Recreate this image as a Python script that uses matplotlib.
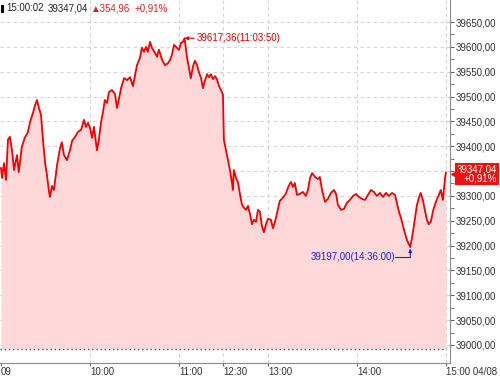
import matplotlib
matplotlib.use("Agg")
from matplotlib import pyplot as plt
import matplotlib.transforms as mtransforms
from matplotlib.patches import Rectangle

plt.rcParams['font.family'] = ['Liberation Sans', 'DejaVu Sans']

# session minute (09:00 = 0, lunch 11:30-12:30 skipped, 15:00 = 300) and price
minutes = [0, 0.7, 2, 3.4, 4.7, 6, 7.4, 8.8, 10.8, 12, 14, 16, 18, 20, 21.6, 23, 24.3,
           25.6, 27, 28.3, 29.7, 31, 32.4, 33, 34.4, 35.7, 37.8, 39.8, 41, 42.5, 44.5,
           46.5, 48, 50, 52, 54, 56, 57.3, 58.7, 60, 61.4, 62.7, 64, 64.7, 66, 67.4,
           68.8, 70, 71.5, 72.8, 74.8, 76.9, 78.2, 79, 81, 83, 85, 87, 89, 90.4, 91.7,
           93.7, 95, 96.4, 97.8, 99, 100.5, 101.8, 103.8, 105.2, 106.5, 108.6, 110.6,
           112.6, 114, 115.3, 116.7, 118, 120, 121.4, 122.7, 123.8, 125.4, 126.8, 128,
           129.5, 130.8, 132, 133.5, 134.9, 136.2, 137.6, 139, 140.3, 141.6, 143, 144.4,
           145.6, 147, 148.4, 149.7, 150.3, 151.7, 153, 154.4, 155.8, 156.4, 157, 158.5,
           159.8, 161, 162.5, 163.9, 165.2, 166.6, 168, 169.3, 170.6, 172, 173.3, 174.6,
           176, 177.3, 178.7, 180, 182, 183.4, 184.8, 186, 188, 190, 192, 194, 195.5,
           197, 198.2, 199.6, 201.6, 203.6, 205.6, 207, 208.4, 209.8, 211.8, 213.8, 215,
           216.5, 218.5, 220.5, 222.5, 224.5, 226, 227.2, 229.3, 231.3, 233.3, 235.3,
           237.4, 239.4, 241.4, 243.4, 245.5, 247.5, 249.5, 251.5, 253.5, 255.6, 257.6,
           259.6, 261.6, 263.7, 265.7, 267, 268.4, 269.7, 271, 272.4, 273.8, 276, 277.8,
           279, 280.5, 281.8, 283, 284.5, 285.8, 287.2, 288.5, 289.9, 291.2, 292.6, 294,
           295.3, 296.6, 298, 299.3, 300]
prices = [39356, 39336, 39366, 39332, 39413, 39419, 39392, 39352, 39382, 39348, 39398,
          39417, 39427, 39453, 39467, 39483, 39493, 39477, 39463, 39413, 39368, 39342,
          39308, 39298, 39320, 39312, 39362, 39396, 39408, 39382, 39372, 39392, 39411,
          39419, 39429, 39433, 39453, 39439, 39447, 39437, 39417, 39439, 39408, 39392,
          39413, 39447, 39469, 39493, 39487, 39509, 39513, 39505, 39477, 39487, 39517,
          39537, 39533, 39539, 39521, 39543, 39563, 39578, 39598, 39590, 39600, 39590,
          39610, 39598, 39588, 39580, 39594, 39574, 39563, 39567, 39574, 39584, 39604,
          39600, 39594, 39608, 39610, 39617.36, 39580, 39557, 39537, 39561, 39572, 39565,
          39549, 39537, 39517, 39533, 39545, 39539, 39545, 39535, 39541, 39535, 39521,
          39513, 39503, 39413, 39392, 39372, 39352, 39326, 39312, 39352, 39336, 39328,
          39306, 39282, 39276, 39272, 39280, 39262, 39243, 39252, 39248, 39272, 39268,
          39239, 39227, 39243, 39254, 39252, 39235, 39248, 39264, 39290, 39296, 39304,
          39320, 39328, 39318, 39326, 39302, 39304, 39308, 39300, 39312, 39336, 39346,
          39338, 39334, 39338, 39312, 39288, 39294, 39306, 39312, 39304, 39282, 39272,
          39274, 39286, 39292, 39300, 39304, 39298, 39294, 39292, 39302, 39312, 39308,
          39300, 39306, 39298, 39306, 39300, 39306, 39302, 39286, 39268, 39256, 39241,
          39225, 39211, 39197, 39227, 39252, 39282, 39296, 39306, 39292, 39272, 39252,
          39243, 39248, 39268, 39282, 39294, 39302, 39312, 39292, 39332, 39347.04]

prev_close = 38992.08
tick_pos = [0, 60, 120, 150, 180, 240, 300]
tick_labels = ["09", "10:00", "11:00", "12:30", "13:00", "14:00", "15:00 04/08"]
y_ticks = list(range(39000, 39651, 50))

fig = plt.figure(figsize=(5, 3.78), dpi=100)
ax = fig.add_axes([0, 15 / 378, 0.9, 363 / 378])

ax.fill_between(minutes, prices, prev_close, color='#ffd9d9', lw=0)
ax.plot(minutes, prices, color='#f00000', lw=1.3)
ax.axhline(prev_close, color='#555555', lw=1, ls=(0, (1, 2)), xmax=0.99)

ax.set_xlim(-0.67, 302.8)
ax.set_ylim(38963.7, 39694.3)

for y in y_ticks:
    ax.axhline(y, color='#d4d4d4', lw=0.8, ls=(0, (3, 3)), zorder=0)
for x in tick_pos[1:]:
    ax.axvline(x, color='#d4d4d4', lw=0.8, ls=(0, (3, 3)), zorder=0)

ax.yaxis.tick_right()
ax.set_yticks(y_ticks)
# the 39350 label sits under the last-price box
ax.set_yticklabels(["" if v == 39350 else f"{v:.2f}".replace('.', ',') for v in y_ticks])
ax.set_yticks([v + 25 for v in y_ticks[:-1]], minor=True)
ax.tick_params(axis='y', which='both', direction='out', length=3, color='#666666',
               labelsize=7, labelcolor='#333333', pad=1)
ax.set_xticks(tick_pos)
ax.set_xticklabels(tick_labels, ha='left')
ax.tick_params(axis='x', direction='out', length=2, color='#666666',
               labelsize=7, labelcolor='#333333', pad=1)
for s in ['top', 'left']:
    ax.spines[s].set_visible(False)
for s in ['right', 'bottom']:
    ax.spines[s].set_color('#8a8a8a')

# max / min annotations
ax.annotate("39617,36(11:03:50)", xy=(123.8, 39617.36), xytext=(132, 39617.36),
            color='#e00000', fontsize=7, va='center',
            arrowprops=dict(arrowstyle='-|>', color='#e00000', lw=0.8,
                            shrinkA=0, shrinkB=0, mutation_scale=5))
ax.text(266, 39178, "39197,00(14:36:00)", color='#2020d0', fontsize=7, ha='right', va='center')
ax.plot([266, 276], [39178, 39178], color='#2020d0', lw=0.8)
ax.annotate("", xy=(276, 39194), xytext=(276, 39178),
            arrowprops=dict(arrowstyle='-|>', color='#2020d0', lw=0.8,
                            shrinkA=0, shrinkB=0, mutation_scale=5))

# last price box on the right
trans = mtransforms.blended_transform_factory(ax.transAxes, ax.transData)
ax.text(1.105, prices[-1] - 3, "39347,04\n+0,91%", transform=trans, color='white',
        fontsize=7, ha='right', va='center', linespacing=0.95, clip_on=False, zorder=5,
        bbox=dict(boxstyle='square,pad=0.15', fc='#ee1111', ec='none'))
ax.plot([1.012], [prices[-1] - 3], marker='<', ms=6, color='#ee1111', transform=trans,
        clip_on=False, zorder=5)

# header
fig.patches.append(Rectangle((0.002, 0.966), 0.006, 0.022, transform=fig.transFigure,
                             fc='black', ec='none'))
fig.text(0.012, 0.978, "15:00:02", fontsize=7, color='#222222', va='center')
fig.text(0.096, 0.978, "39347,04", fontsize=7, color='#222222', va='center')
fig.text(0.180, 0.978, "\u25b2354,96", fontsize=7, color='#e02020', va='center')
fig.text(0.270, 0.978, "+0,91%", fontsize=7, color='#e02020', va='center')

fig.savefig("out.png", dpi=100)
